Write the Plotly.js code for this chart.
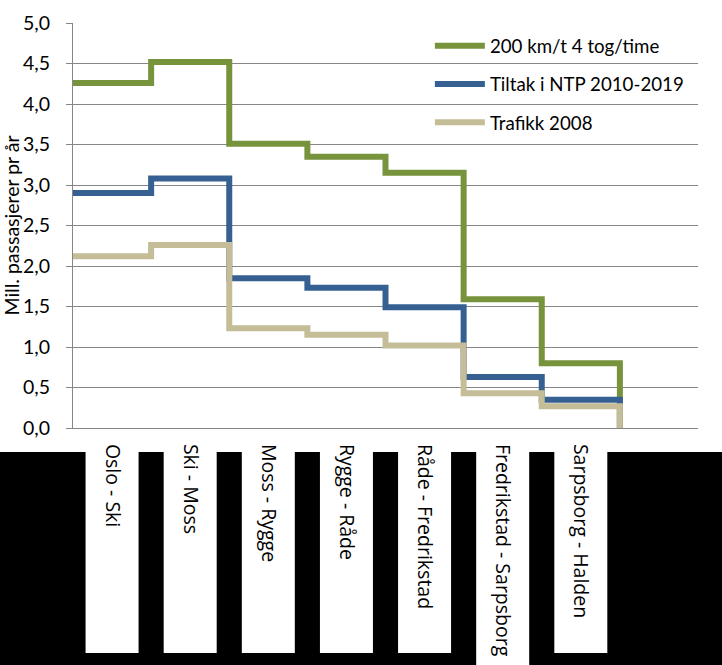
<!DOCTYPE html>
<html>
<head>
<meta charset="utf-8">
<script src="https://cdn.plot.ly/plotly-3.0.1.min.js"></script>
<style>html,body{margin:0;padding:0;background:#fff;}#chart{width:722px;height:665px;}</style>
</head>
<body>
<div id="chart"></div>
<script>
// Data
var categories = ["Oslo - Ski", "Ski - Moss", "Moss - Rygge", "Rygge - Råde", "Råde - Fredrikstad", "Fredrikstad - Sarpsborg", "Sarpsborg - Halden"];
var seriesNames = ["200 km/t 4 tog/time", "Tiltak i NTP 2010-2019", "Trafikk 2008"];
var green200 = [4.26, 4.52, 3.51, 3.35, 3.15, 1.59, 0.80];
var blueNTP = [2.90, 3.08, 1.85, 1.73, 1.49, 0.63, 0.35];
var beige2008 = [2.12, 2.26, 1.23, 1.15, 1.02, 0.43, 0.27];
var endValue = 0; // each line drops to zero at the end of the last section
var nSlots = 8;   // the category axis has one empty slot after Sarpsborg - Halden
var yTickVals = [0, 0.5, 1, 1.5, 2, 2.5, 3, 3.5, 4, 4.5, 5];

var colors = ["#77933C", "#376092", "#C4BD97"];
var allSeries = [green200, blueNTP, beige2008];

var xs = categories.map(function (c, i) { return i; }).concat([categories.length]);
var traces = allSeries.map(function (s, k) {
  return {
    type: "scatter",
    mode: "lines",
    name: seriesNames[k],
    legendgroup: "g" + k,
    x: xs,
    y: s.concat([endValue]),
    line: { shape: "hv", color: colors[k], width: 6 },
    hoverinfo: "skip"
  };
});

var gridCol = "#868686";
var fontMain = "Lato, 'Open Sans', sans-serif";

// Decoration: black band below the axis with white boxes behind each category label
var shapes = [];
shapes.push({ type: "rect", xref: "paper", yref: "paper", x0: -0.2, x1: 1.1, y0: -0.0593, y1: -0.7,
  fillcolor: "#000", line: { width: 0 }, layer: "below" });
var boxHalf = 0.0424;
var longest = Math.max.apply(null, categories.map(function (c) { return c.length; }));
categories.forEach(function (c, i) {
  var cx = (i + 0.5) / nSlots;
  shapes.push({ type: "rect", xref: "paper", yref: "paper",
    x0: cx - boxHalf, x1: cx + boxHalf, y0: -0.0593, y1: (c.length === longest ? -0.7 : -0.5556),
    fillcolor: "#fff", line: { width: 0 }, layer: "below" });
});

var layout = {
  width: 722, height: 665,
  margin: { l: 73, r: 24, t: 23, b: 237 },
  paper_bgcolor: "#fff", plot_bgcolor: "#fff",
  separators: ", ",
  showlegend: true,
  font: { family: fontMain, color: "#000", size: 19 },
  xaxis: {
    range: [0, nSlots], fixedrange: true,
    tickmode: "array",
    tickvals: categories.map(function (c, i) { return i + 0.5; }),
    ticktext: categories,
    tickangle: 90,
    ticks: "", showgrid: false, zeroline: false,
    showline: true, linecolor: gridCol, linewidth: 1,
    tickfont: { family: "'Open Sans', sans-serif", size: 19.5, color: "#000" },
    ticklabelstandoff: 11
  },
  yaxis: {
    range: [0, 5], fixedrange: true,
    tickmode: "array", tickvals: yTickVals,
    tickformat: ".1f",
    ticks: "outside", ticklen: 6, tickcolor: gridCol, tickwidth: 1,
    showgrid: true, gridcolor: gridCol, gridwidth: 1,
    zeroline: false,
    showline: true, linecolor: gridCol, linewidth: 1,
    tickfont: { family: fontMain, size: 19.5, color: "#000" },
    ticklabelstandoff: 12,
    title: { text: "Mill. passasjerer pr år", font: { family: fontMain, size: 19.5, color: "#000" }, standoff: 7 }
  },
  legend: {
    x: 0.571, xanchor: "left", y: 0.99, yanchor: "top",
    bgcolor: "rgba(0,0,0,0)", borderwidth: 0,
    font: { family: fontMain, size: 18.7, color: "#000" },
    tracegroupgap: 11, itemwidth: 50
  },
  shapes: shapes
};

Plotly.newPlot("chart", traces, layout, { displayModeBar: false, staticPlot: true });
</script>
</body>
</html>
